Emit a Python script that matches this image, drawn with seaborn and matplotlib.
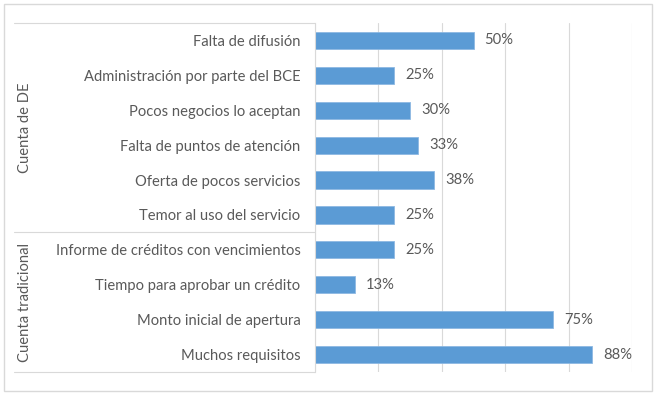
import matplotlib
matplotlib.use("Agg")
import matplotlib.pyplot as plt
import seaborn as sns
import pandas as pd
from matplotlib.patches import Rectangle

# data
categories = [
    "Falta de difusión",
    "Administración por parte del BCE",
    "Pocos negocios lo aceptan",
    "Falta de puntos de atención",
    "Oferta de pocos servicios",
    "Temor al uso del servicio",
    "Informe de créditos con vencimientos",
    "Tiempo para aprobar un crédito",
    "Monto inicial de apertura",
    "Muchos requisitos",
]
values = [0.50, 0.25, 0.30, 0.325, 0.375, 0.25, 0.25, 0.125, 0.75, 0.875]
value_labels = ["50%", "25%", "30%", "33%", "38%", "25%", "25%", "13%", "75%", "88%"]
groups = ["Cuenta de DE", "Cuenta tradicional"]
group_sizes = [6, 4]

text_color = "#595959"
grid_color = "#D9D9D9"
fs = 10.6

sns.set_style("white")
plt.rcParams["font.family"] = ["Lato", "DejaVu Sans"]

df = pd.DataFrame({"categoria": categories, "valor": values})

fig = plt.figure(figsize=(6.61, 3.97), dpi=100)
ax = fig.add_axes([315 / 661, 1 - 372 / 397, (632 - 315) / 661, (372 - 23) / 397])

sns.barplot(data=df, x="valor", y="categoria", orient="h", color="#5B9BD5",
            saturation=1, width=0.49, edgecolor="#8DB8E3", linewidth=0.6, ax=ax)

n = len(categories)
ax.set_xlim(0, 1)
ax.set_ylim(n - 0.5, -0.5)
ax.set_xticks([0, 0.2, 0.4, 0.6, 0.8, 1.0])
ax.set_xticklabels([])
ax.tick_params(axis="x", length=0)
ax.tick_params(axis="y", length=0, pad=10.5, labelsize=fs, labelcolor=text_color)
ax.grid(axis="x", color=grid_color, linewidth=0.8)
ax.set_axisbelow(True)
ax.set_xlabel("")
ax.set_ylabel("")
for side in ["top", "right", "bottom"]:
    ax.spines[side].set_visible(False)
ax.spines["left"].set_color(grid_color)
ax.spines["left"].set_linewidth(0.8)

# value labels
for i, (v, lab) in enumerate(zip(values, value_labels)):
    ax.annotate(lab, (v, i), xytext=(8, 0), textcoords="offset points",
                va="center", ha="left", fontsize=fs, color=text_color)

# group labels and separators of the category axis
x_left = (14 - 315) / (632 - 315)
start = 0
ax.plot([x_left, 0], [1, 1], transform=ax.transAxes, color=grid_color,
        linewidth=0.8, clip_on=False)
for g, size in zip(groups, group_sizes):
    end = start + size
    y_bottom = 1 - end / n
    y_mid = 1 - (start + end) / 2 / n
    ax.plot([x_left, 0], [y_bottom, y_bottom], transform=ax.transAxes,
            color=grid_color, linewidth=0.8, clip_on=False)
    ax.text((25 - 315) / (632 - 315), y_mid, g, transform=ax.transAxes,
            rotation=90, ha="center", va="center", fontsize=fs, color=text_color)
    start = end

# chart border
fig.patches.append(Rectangle((4 / 661, 1 - 391 / 397), (652 - 4) / 661, (391 - 4) / 397,
                             transform=fig.transFigure, fill=False,
                             edgecolor=grid_color, linewidth=1))

fig.savefig("out.png", dpi=100)
